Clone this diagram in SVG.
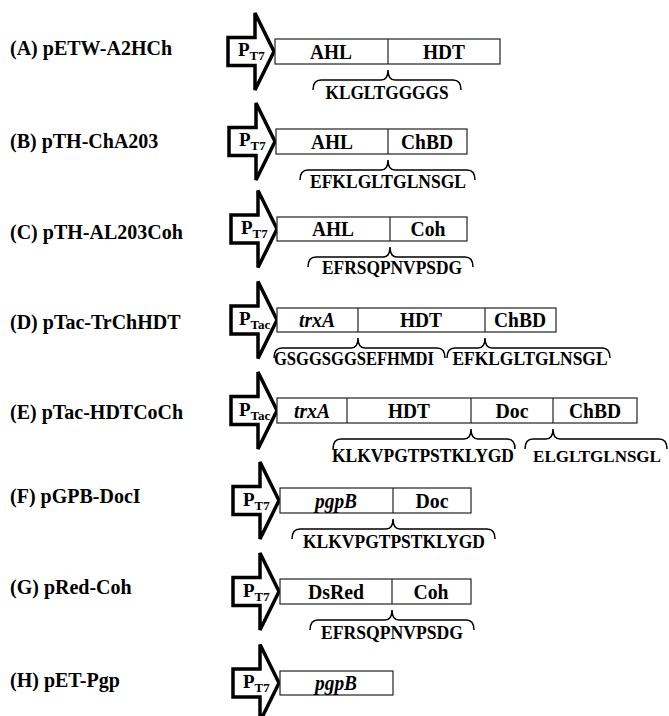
<svg xmlns="http://www.w3.org/2000/svg" xmlns:xlink="http://www.w3.org/1999/xlink" width="669" height="716" viewBox="0 0 669 716">
<style>
.lbl{font-family:"Liberation Serif",serif;font-weight:bold;font-size:20px;fill:#000}
.seg{font-family:"Liberation Serif",serif;font-weight:bold;font-size:21px;text-anchor:middle;fill:#000}
.it{font-style:italic}
.lnk{font-family:"Liberation Serif",serif;font-weight:bold;font-size:19px;text-anchor:middle;fill:#000}
.p{font-family:"Liberation Serif",serif;font-weight:bold;font-size:19px;fill:#000}
.sub{font-size:13px}
.box{fill:#fff;stroke:#222;stroke-width:1.2}
.brace{fill:none;stroke:#000;stroke-width:1.5}
.arrow{fill:#fff;stroke:#000;stroke-width:3.5;stroke-linejoin:miter}
</style>
<defs>
<path id="prom" class="arrow" d="M0,-14 H27 V-38.5 L46,0 L27,38.5 V14 H0 Z"/>
</defs>
<rect width="669" height="716" fill="#fff"/>

<g id="construct-A">
<text class="lbl" x="10" y="55">(A) pETW-A2HCh</text>
<use xlink:href="#prom" transform="translate(228,51.5)"/>
<text class="p" x="238" y="56">P<tspan class="sub" dy="4">T7</tspan></text>
<rect class="box" x="275" y="39" width="225" height="25"/>
<line class="box" x1="388" y1="39" x2="388" y2="64"/>
<text class="seg" x="331" y="58.5" textLength="42" lengthAdjust="spacingAndGlyphs">AHL</text>
<text class="seg" x="444" y="58.5" textLength="42" lengthAdjust="spacingAndGlyphs">HDT</text>
<path class="brace" d="M313,90 Q313,80 321,80 H381 Q388,80 388,70 Q388,80 395,80 H453 Q461,80 461,90"/>
<text class="lnk" x="387" y="99" textLength="123" lengthAdjust="spacingAndGlyphs">KLGLTGGGGS</text>
</g>

<g id="construct-B">
<text class="lbl" x="10" y="148">(B) pTH-ChA203</text>
<use xlink:href="#prom" transform="translate(229,141.5)"/>
<text class="p" x="239" y="146">P<tspan class="sub" dy="4">T7</tspan></text>
<rect class="box" x="276" y="129" width="191" height="25"/>
<line class="box" x1="388" y1="129" x2="388" y2="154"/>
<text class="seg" x="332" y="148.5" textLength="42" lengthAdjust="spacingAndGlyphs">AHL</text>
<text class="seg" x="427" y="148.5" textLength="52" lengthAdjust="spacingAndGlyphs">ChBD</text>
<path class="brace" d="M300,180 Q300,170 308,170 H381 Q388,170 388,160 Q388,170 395,170 H467 Q475,170 475,180"/>
<text class="lnk" x="388" y="188" textLength="156" lengthAdjust="spacingAndGlyphs">EFKLGLTGLNSGL</text>
</g>

<g id="construct-C">
<text class="lbl" x="10" y="239">(C) pTH-AL203Coh</text>
<use xlink:href="#prom" transform="translate(231,229)"/>
<text class="p" x="241" y="234">P<tspan class="sub" dy="4">T7</tspan></text>
<rect class="box" x="277" y="217" width="190" height="24"/>
<line class="box" x1="390" y1="217" x2="390" y2="241"/>
<text class="seg" x="333" y="236" textLength="42" lengthAdjust="spacingAndGlyphs">AHL</text>
<text class="seg" x="428" y="236" textLength="35" lengthAdjust="spacingAndGlyphs">Coh</text>
<path class="brace" d="M308,267 Q308,257 316,257 H383 Q390,257 390,247 Q390,257 397,257 H465 Q473,257 473,267"/>
<text class="lnk" x="392" y="274" textLength="140" lengthAdjust="spacingAndGlyphs">EFRSQPNVPSDG</text>
</g>

<g id="construct-D">
<text class="lbl" x="10" y="329">(D) pTac-TrChHDT</text>
<use xlink:href="#prom" transform="translate(231,320)"/>
<text class="p" x="239" y="325">P<tspan class="sub" dy="4">Tac</tspan></text>
<rect class="box" x="277" y="308" width="279" height="24"/>
<line class="box" x1="358" y1="308" x2="358" y2="332"/>
<line class="box" x1="485" y1="308" x2="485" y2="332"/>
<text class="seg it" x="317" y="327" textLength="36" lengthAdjust="spacingAndGlyphs">trxA</text>
<text class="seg" x="421" y="327" textLength="42" lengthAdjust="spacingAndGlyphs">HDT</text>
<text class="seg" x="520" y="327" textLength="52" lengthAdjust="spacingAndGlyphs">ChBD</text>
<path class="brace" d="M274,358 Q274,348 282,348 H351 Q358,348 358,338 Q358,348 365,348 H437 Q445,348 445,358"/>
<path class="brace" d="M447,358 Q447,348 455,348 H478 Q485,348 485,338 Q485,348 492,348 H602 Q610,348 610,358"/>
<text class="lnk" x="354" y="365" textLength="160" lengthAdjust="spacingAndGlyphs">GSGGSGGSEFHMDI</text>
<text class="lnk" x="530" y="365" textLength="155" lengthAdjust="spacingAndGlyphs">EFKLGLTGLNSGL</text>
</g>

<g id="construct-E">
<text class="lbl" x="10" y="419">(E) pTac-HDTCoCh</text>
<use xlink:href="#prom" transform="translate(231,410.5)"/>
<text class="p" x="239" y="415.5">P<tspan class="sub" dy="4">Tac</tspan></text>
<rect class="box" x="277" y="398" width="360" height="25"/>
<line class="box" x1="347" y1="398" x2="347" y2="423"/>
<line class="box" x1="471" y1="398" x2="471" y2="423"/>
<line class="box" x1="553" y1="398" x2="553" y2="423"/>
<text class="seg it" x="312" y="417.5" textLength="36" lengthAdjust="spacingAndGlyphs">trxA</text>
<text class="seg" x="409" y="417.5" textLength="42" lengthAdjust="spacingAndGlyphs">HDT</text>
<text class="seg" x="512" y="417.5" textLength="33" lengthAdjust="spacingAndGlyphs">Doc</text>
<text class="seg" x="595" y="417.5" textLength="52" lengthAdjust="spacingAndGlyphs">ChBD</text>
<path class="brace" d="M333,449 Q333,439 341,439 H464 Q471,439 471,429 Q471,439 478,439 H507 Q515,439 515,449"/>
<path class="brace" d="M525,449 Q525,439 533,439 H546 Q553,439 553,429 Q553,439 560,439 H659 Q667,439 667,449"/>
<text class="lnk" x="423" y="462" textLength="182" lengthAdjust="spacingAndGlyphs">KLKVPGTPSTKLYGD</text>
<text class="lnk" x="597" y="462" style="font-size:17px">ELGLTGLNSGL</text>
</g>

<g id="construct-F">
<text class="lbl" x="10" y="503">(F) pGPB-DocI</text>
<use xlink:href="#prom" transform="translate(233,500.5)"/>
<text class="p" x="243" y="505.5">P<tspan class="sub" dy="4">T7</tspan></text>
<rect class="box" x="280" y="488" width="191" height="25"/>
<line class="box" x1="393" y1="488" x2="393" y2="513"/>
<text class="seg it" x="336" y="507.5" textLength="42" lengthAdjust="spacingAndGlyphs">pgpB</text>
<text class="seg" x="432" y="507.5" textLength="33" lengthAdjust="spacingAndGlyphs">Doc</text>
<path class="brace" d="M292,539 Q292,529 300,529 H386 Q393,529 393,519 Q393,529 400,529 H487 Q495,529 495,539"/>
<text class="lnk" x="394" y="548" textLength="182" lengthAdjust="spacingAndGlyphs">KLKVPGTPSTKLYGD</text>
</g>

<g id="construct-G">
<text class="lbl" x="10" y="594">(G) pRed-Coh</text>
<use xlink:href="#prom" transform="translate(233,591.5)"/>
<text class="p" x="243" y="596.5">P<tspan class="sub" dy="4">T7</tspan></text>
<rect class="box" x="280" y="579" width="191" height="25"/>
<line class="box" x1="392" y1="579" x2="392" y2="604"/>
<text class="seg" x="336" y="598.5" textLength="56" lengthAdjust="spacingAndGlyphs">DsRed</text>
<text class="seg" x="431" y="598.5" textLength="35" lengthAdjust="spacingAndGlyphs">Coh</text>
<path class="brace" d="M310,630 Q310,620 318,620 H385 Q392,620 392,610 Q392,620 399,620 H466 Q474,620 474,630"/>
<text class="lnk" x="392" y="639" textLength="142" lengthAdjust="spacingAndGlyphs">EFRSQPNVPSDG</text>
</g>

<g id="construct-H">
<text class="lbl" x="10" y="687">(H) pET-Pgp</text>
<use xlink:href="#prom" transform="translate(233,683)"/>
<text class="p" x="243" y="688">P<tspan class="sub" dy="4">T7</tspan></text>
<rect class="box" x="280" y="671" width="113" height="24"/>
<text class="seg it" x="336" y="690" textLength="42" lengthAdjust="spacingAndGlyphs">pgpB</text>
</g>

<g id="connectors"></g>
</svg>
